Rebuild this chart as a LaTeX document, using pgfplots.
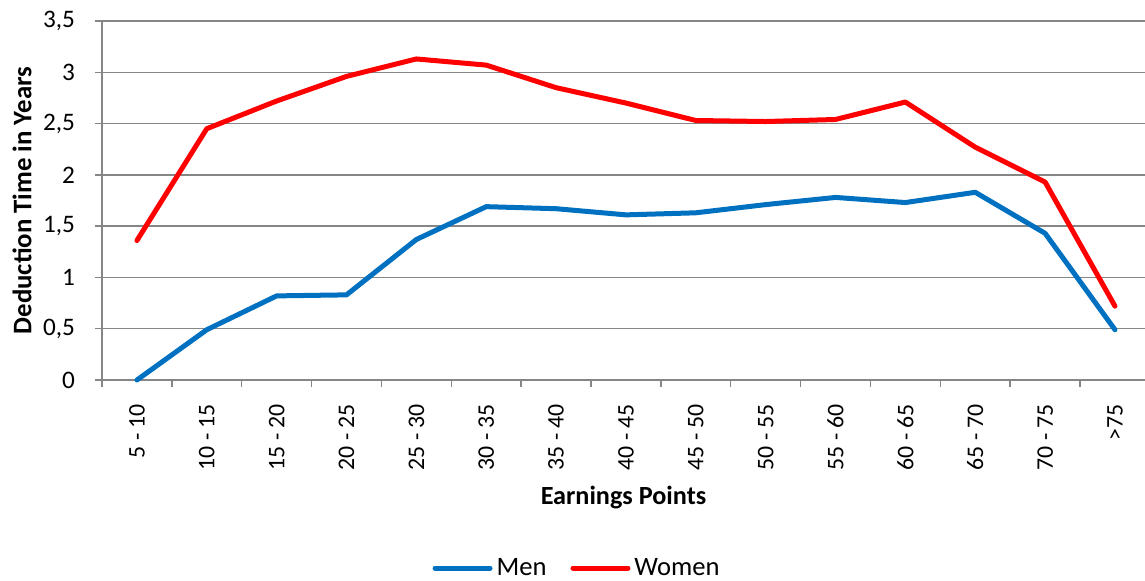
\documentclass[border=0pt]{standalone}
\usepackage{fontspec}
\setmainfont{Carlito}
\usepackage{pgfplots}
\pgfplotsset{compat=1.18}
\definecolor{gridgray}{RGB}{134,134,134}
\definecolor{menblue}{RGB}{0,112,192}
\definecolor{womenred}{RGB}{255,0,0}
\begin{document}
\begin{tikzpicture}
\path[use as bounding box] (-51bp,-100.5bp) rectangle (521.5bp,190bp);
\begin{axis}[
  at={(0,0)}, anchor=south west,
  scale only axis, width=521.5bp, height=179.5bp,
  xmin=-0.5, xmax=14.43, ymin=0, ymax=3.5,
  axis x line=bottom, axis y line=left,
  axis line style={-, draw=gridgray, line width=0.75bp},
  xtick={0,...,14},
  xticklabels={5 - 10,10 - 15,15 - 20,20 - 25,25 - 30,30 - 35,35 - 40,40 - 45,45 - 50,50 - 55,55 - 60,60 - 65,65 - 70,70 - 75,>75},
  minor xtick={-0.5,0.5,...,13.5},
  major x tick style={draw=none},
  minor x tick style={draw=gridgray, line width=0.75bp},
  ytick={0,0.5,...,3.5},
  y tick style={draw=gridgray, line width=0.75bp},
  tick align=outside,
  major tick length=3.5bp, minor tick length=3.5bp,
  ymajorgrids,
  grid style={draw=gridgray, line width=0.75bp},
  x tick label style={rotate=90, anchor=east, font=\fontsize{11.9bp}{14bp}\selectfont},
  xticklabel shift=5bp,
  y tick label style={font=\fontsize{12.6bp}{15bp}\selectfont},
  yticklabel shift=6.5bp,
  yticklabel style={/pgf/number format/.cd, use comma, fixed, precision=1, assume math mode=true},
  xlabel={\textbf{Earnings Points}},
  xlabel style={at={(axis description cs:0.5,-0.326)}, anchor=center, font=\fontsize{13.1bp}{16bp}\selectfont},
  ylabel={\textbf{Deduction Time in Years}},
  ylabel style={at={(axis description cs:-0.0767,0.5)}, anchor=center, rotate=0, font=\fontsize{13.4bp}{16bp}\selectfont},
  legend columns=2,
  legend style={at={(axis description cs:0.4564,-0.5237)}, anchor=center, draw=none, fill=none,
    font=\fontsize{13.3bp}{16bp}\selectfont, /tikz/every even column/.append style={column sep=10bp}},
  legend image code/.code={\draw[#1, line cap=round] (0bp,0bp) -- (27.5bp,0bp);},
  clip=false,
]
\addplot[menblue, line width=2.5bp, line join=round, line cap=round] coordinates {
(0,0) (1,0.49) (2,0.82) (3,0.83) (4,1.37) (5,1.69) (6,1.67) (7,1.61) (8,1.63) (9,1.71) (10,1.78) (11,1.73) (12,1.83) (13,1.43) (14,0.49)};
\addlegendentry{Men}
\addplot[womenred, line width=2.5bp, line join=round, line cap=round] coordinates {
(0,1.36) (1,2.45) (2,2.72) (3,2.96) (4,3.13) (5,3.07) (6,2.85) (7,2.70) (8,2.53) (9,2.52) (10,2.54) (11,2.71) (12,2.27) (13,1.93) (14,0.72)};
\addlegendentry{Women}
\end{axis}
\end{tikzpicture}
\end{document}
